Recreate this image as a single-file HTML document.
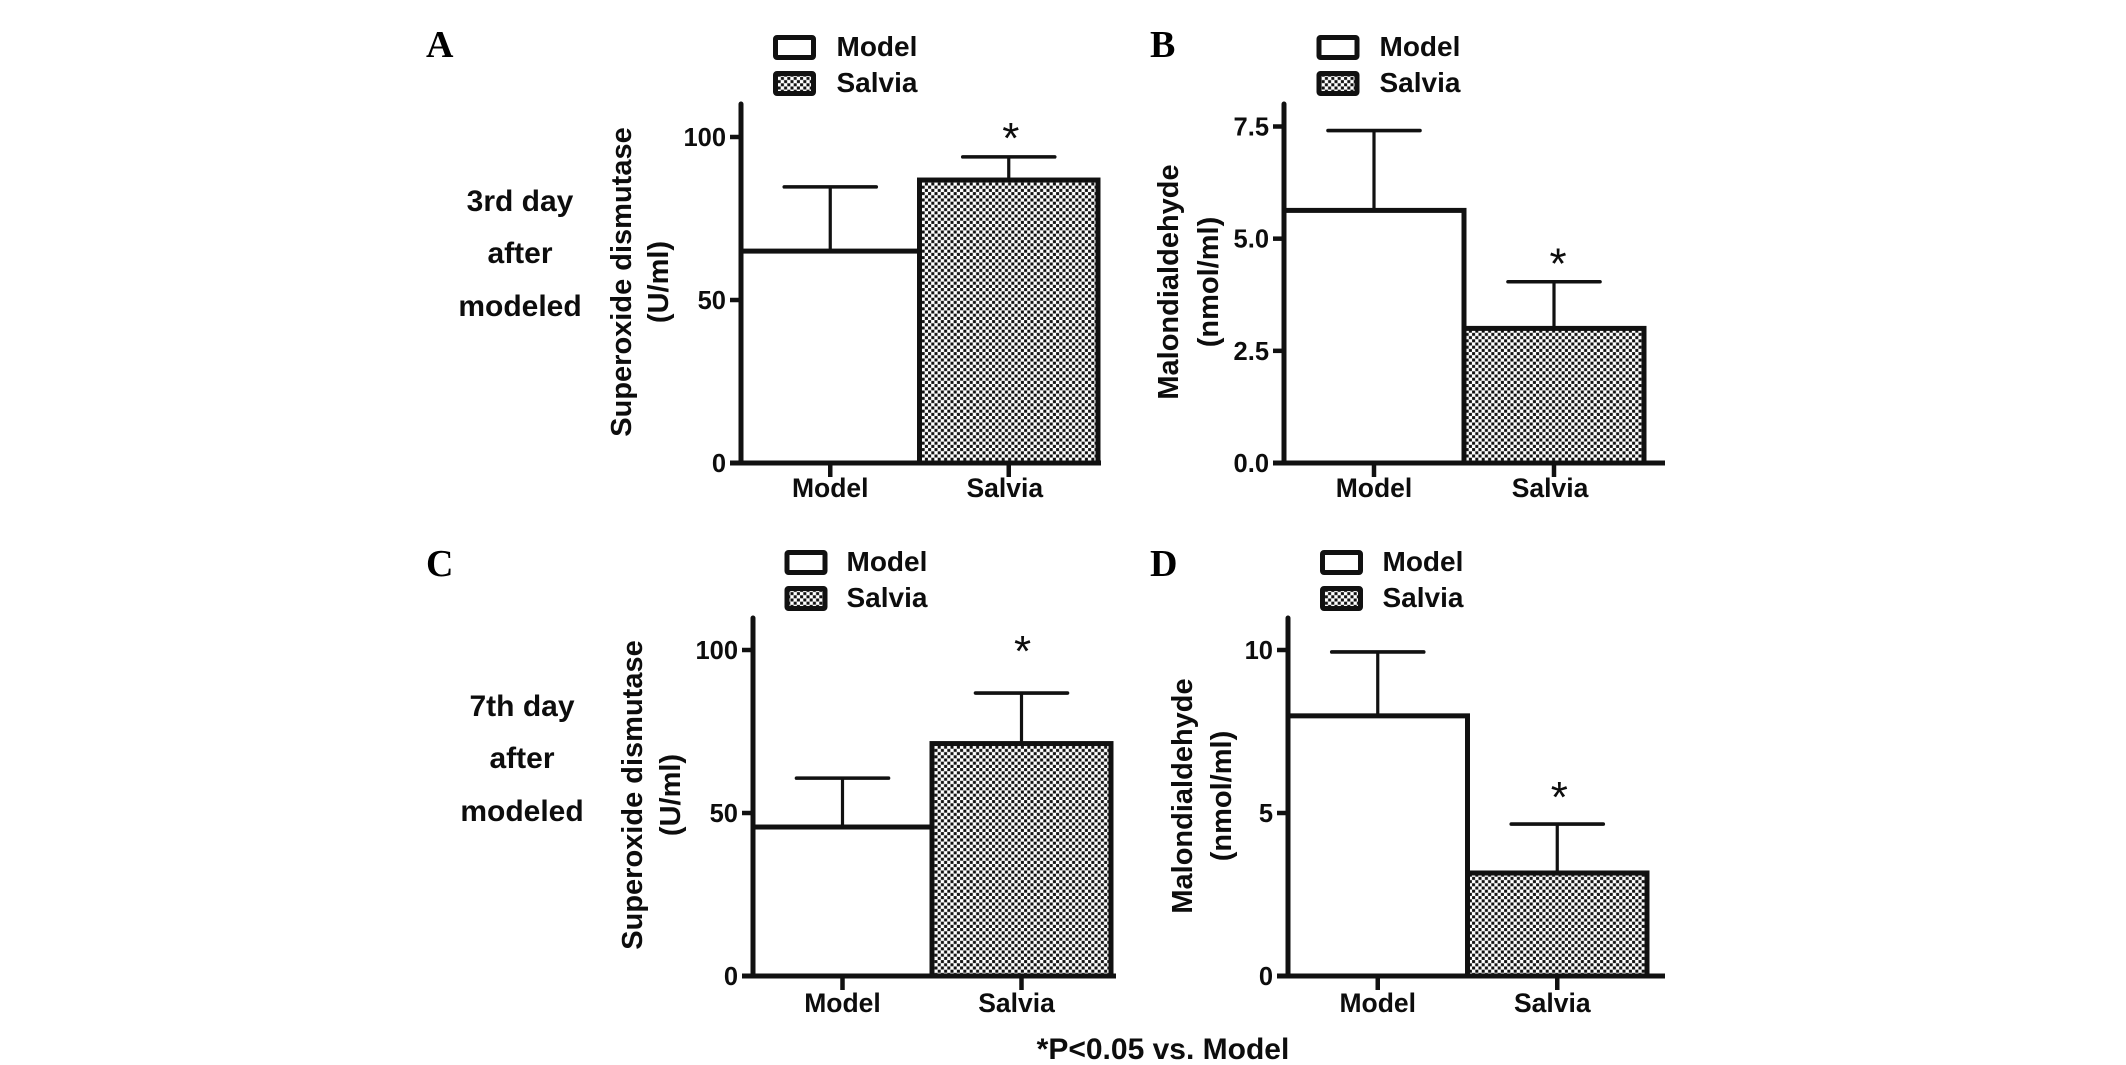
<!DOCTYPE html>
<html lang="en">
<head>
<meta charset="utf-8">
<title>Superoxide dismutase and malondialdehyde levels</title>
<style>
html,body{margin:0;padding:0;background:#fff;width:2126px;height:1065px;overflow:hidden}
svg{display:block}
text{font-family:"Liberation Sans",sans-serif;font-weight:bold;fill:#0d0d0d}
.letter{font-family:"Liberation Serif",serif;font-size:38px;fill:#000}
</style>
</head>
<body>
<svg id="figure" xmlns="http://www.w3.org/2000/svg" width="2126" height="1065" viewBox="0 0 2126 1065">
<defs>
<pattern id="checker" width="6.4" height="6.4" patternUnits="userSpaceOnUse">
<rect width="6.4" height="6.4" fill="#fff"/>
<rect x="0.1" y="0.1" width="3" height="3" fill="#111"/>
<rect x="3.3" y="3.3" width="3" height="3" fill="#111"/>
</pattern>
</defs>
<g text-anchor="middle">
<text x="520" y="211" style="font-size:30px">3rd day</text>
<text x="520" y="263" style="font-size:30px">after</text>
<text x="520" y="316" style="font-size:30px">modeled</text>
</g>
<g text-anchor="middle">
<text x="522" y="716" style="font-size:30px">7th day</text>
<text x="522" y="768" style="font-size:30px">after</text>
<text x="522" y="821" style="font-size:30px">modeled</text>
</g>
<text x="1169" y="1063" text-anchor="middle" style="font-size:30px" transform="translate(-6,-4)">*P&lt;0.05 vs. Model</text>
</svg>
<script>
var categories = ['Model', 'Salvia'];
var sodDay3Means = [65, 86.8];
var sodDay3ErrTops = [84.7, 93.9];
var mdaDay3Means = [5.63, 3.0];
var mdaDay3ErrTops = [7.41, 4.04];
var sodDay7Means = [45.7, 71.3];
var sodDay7ErrTops = [60.7, 86.8];
var mdaDay7Means = [7.98, 3.16];
var mdaDay7ErrTops = [9.94, 4.66];
var sodDay3Ticks = ['0', '50', '100'];
var mdaDay3Ticks = ['0.0', '2.5', '5.0', '7.5'];
var sodDay7Ticks = ['0', '50', '100'];
var mdaDay7Ticks = ['0', '5', '10'];

var panels = [
  {id:'a', letter:'A', lx:426, lb:57, means:sodDay3Means, tops:sodDay3ErrTops, ticks:sodDay3Ticks, maxTick:100,
   ax:741, band:178.5, base:463, top:104, tickTop:137, xEnd:1101, labelDy:34,
   lg:777, ly:35, tx:836, t1:'Superoxide dismutase', t2:'(U/ml)', t1x:621, t2x:658, tyc:282, starDx:2, starGap:29, salviaDx:-4},
  {id:'b', letter:'B', lx:1150, lb:57, means:mdaDay3Means, tops:mdaDay3ErrTops, ticks:mdaDay3Ticks, maxTick:7.5,
   ax:1284, band:180, base:463, top:104, tickTop:126.5, xEnd:1665, labelDy:34,
   lg:1317, ly:35, tx:1379, t1:'Malondialdehyde', t2:'(nmol/ml)', t1x:1168, t2x:1208, tyc:282, starDx:4, starGap:28, salviaDx:-4},
  {id:'c', letter:'C', lx:426, lb:576, means:sodDay7Means, tops:sodDay7ErrTops, ticks:sodDay7Ticks, maxTick:100,
   ax:753, band:179, base:976, top:618, tickTop:650, xEnd:1116, labelDy:36,
   lg:788, ly:550, tx:846, t1:'Superoxide dismutase', t2:'(U/ml)', t1x:632, t2x:670, tyc:795, starDx:1, starGap:52, salviaDx:-5},
  {id:'d', letter:'D', lx:1150, lb:576, means:mdaDay7Means, tops:mdaDay7ErrTops, ticks:mdaDay7Ticks, maxTick:10,
   ax:1288, band:179.5, base:976, top:618, tickTop:650, xEnd:1665, labelDy:36,
   lg:1320, ly:550, tx:1382, t1:'Malondialdehyde', t2:'(nmol/ml)', t1x:1182, t2x:1221, tyc:796, starDx:2, starGap:37, salviaDx:-5}
];
// Swatch offsets measured against the reference legends.
panels[0].lg = 773;
panels[1].lg = 1316.5;
panels[2].lg = 784.5;

var svg = document.getElementById('figure');
var NS = 'http://www.w3.org/2000/svg';
function mk(tag, attrs, parent, txt) {
  var e = document.createElementNS(NS, tag);
  for (var k in attrs) e.setAttribute(k, attrs[k]);
  if (txt !== undefined) e.textContent = txt;
  parent.appendChild(e);
  return e;
}

panels.forEach(function (p) {
  var yOf = function (v) { return p.base - v * (p.base - p.tickTop) / p.maxTick; };
  var xLeft = function (i) { return p.ax + i * p.band; };
  var xMid = function (i) { return p.ax + (i + 0.5) * p.band; };
  var el;
  var g = mk('g', {}, svg);
  
  

  el = mk('text', {x:p.lx, y:p.lb, 'class':'letter'}, g, p.letter);
  
  

  // legend
  el = mk('rect', {x:p.lg + 2.5, y:p.ly + 2.5, width:38, height:20, rx:1.5, fill:'#fff', stroke:'#111', 'stroke-width':5}, g);
  
  
  el = mk('rect', {x:p.lg + 2.5, y:p.ly + 38.5, width:38, height:20, rx:1.5, fill:'url(#checker)', stroke:'#111', 'stroke-width':5}, g);
  
  
  el = mk('text', {x:p.tx + 0.5, y:p.ly + 21, style:'font-size:28px'}, g, categories[0]);
  
  
  el = mk('text', {x:p.tx + 0.5, y:p.ly + 57, style:'font-size:28px'}, g, categories[1]);
  
  

  // error bars (behind bar outlines)
  categories.forEach(function (c, i) {
    var x = xMid(i), yTop = yOf(p.tops[i]), yBar = yOf(p.means[i]);
    var e1 = mk('line', {x1:x, x2:x, y1:yTop, y2:yBar, stroke:'#111', 'stroke-width':3.2}, g);
    
    
    var e2 = mk('line', {x1:x - 46, x2:x + 46, y1:yTop, y2:yTop, stroke:'#111', 'stroke-width':3.6, 'stroke-linecap':'round'}, g);
    
    
  });

  // bars
  categories.forEach(function (c, i) {
    var b = mk('rect', {x:xLeft(i), y:yOf(p.means[i]), width:p.band, height:p.base - yOf(p.means[i]),
      fill:i === 0 ? '#fff' : 'url(#checker)', stroke:'#111', 'stroke-width':5}, g);
    
    
  });

  // axes
  el = mk('line', {x1:p.ax, x2:p.ax, y1:p.top, y2:p.base, stroke:'#111', 'stroke-width':5, 'stroke-linecap':'round'}, g);
  
  
  el = mk('line', {x1:p.ax - 11, x2:p.xEnd, y1:p.base, y2:p.base, stroke:'#111', 'stroke-width':5}, g);
  
  

  p.ticks.forEach(function (t) {
    var y = yOf(parseFloat(t));
    var tk = mk('line', {x1:p.ax - 11, x2:p.ax, y1:y, y2:y, stroke:'#111', 'stroke-width':4.5}, g);
    
    
    var lb = mk('text', {x:p.ax - 15, y:y + 9, 'text-anchor':'end', style:'font-size:25.5px'}, g, t);
    
    
  });

  categories.forEach(function (c, i) {
    var tk = mk('line', {x1:xMid(i), x2:xMid(i), y1:p.base, y2:p.base + 14, stroke:'#111', 'stroke-width':4.5}, g);
    
    
    var lb = mk('text', {x:xMid(i) + (i === 1 ? p.salviaDx : 0), y:p.base + p.labelDy, 'text-anchor':'middle', style:'font-size:26.5px'}, g, c);
    
    
  });

  // significance star
  el = mk('text', {x:xMid(1) + p.starDx, y:yOf(p.tops[1]) - p.starGap + 25, 'text-anchor':'middle',
    style:'font-size:44px;font-weight:normal'}, g, '*');
  
  

  // y-axis title
  el = mk('text', {transform:'translate(' + (p.t1x + 10) + ',' + p.tyc + ') rotate(-90)', 'text-anchor':'middle', style:'font-size:29px'}, g, p.t1);
  
  
  el = mk('text', {transform:'translate(' + (p.t2x + 10) + ',' + p.tyc + ') rotate(-90)', 'text-anchor':'middle', style:'font-size:29px'}, g, p.t2);
  
  
});
</script>
</body>
</html>
